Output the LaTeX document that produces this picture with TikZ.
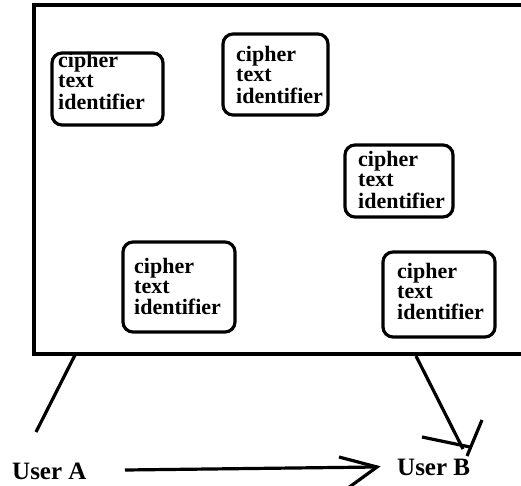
\documentclass[tikz,border=0pt]{standalone}
\usepackage{fontspec}
\setmainfont{Liberation Serif}
\begin{document}
\begin{tikzpicture}[x=1pt,y=-1pt,
  ink/.style={line width=3.2pt,black},
  cbox/.style={draw,line width=3.2pt,rounded corners=10pt,inner sep=0pt},
  ctext/.style={anchor=base west,inner sep=0pt,font=\fontsize{22}{20}\selectfont\bfseries},
  utext/.style={anchor=base west,inner sep=0pt,font=\fontsize{25}{26}\selectfont\bfseries}]
\useasboundingbox (0,0) rectangle (521,486);
\clip (0,0) rectangle (521,486);
\newcommand{\cte}{\renewcommand\arraystretch{1}\begin{tabular}[t]{@{}l@{}}cipher\\text\\identifier\end{tabular}}
% big frame (right side runs off the picture)
\draw[ink] (540,5) -- (34,5) -- (34,354) -- (540,354);
% boxes
\draw[cbox] (52,53) rectangle (163,125);
\node[ctext] (t1) at (58,68) {\cte};
\draw[cbox] (223,34) rectangle (328,115);
\node[ctext] (t2) at (236,62) {\cte};
\draw[cbox] (345,145) rectangle (453,217);
\node[ctext] (t3) at (358,167) {\cte};
\draw[cbox] (123,242) rectangle (235,332);
\node[ctext] (t4) at (134,273) {\cte};
\draw[cbox] (383,252) rectangle (495,337);
\node[ctext] (t5) at (397,278) {\cte};
% users
\node[utext] (ua) at (12,479) {User A};
\node[utext] (ub) at (397,475) {User B};
% lines
\coordinate (fa) at (76,353);
\coordinate (la) at (36,432);
\draw[ink] (fa) -- (la);
\coordinate (fb) at (416,356);
\coordinate (bt) at (463,449);
\draw[ink] (fb) -- (bt);
\draw[ink] (422,437) -- (470,447);
\draw[ink] (482,420) -- (467,456);
\coordinate (as) at (125,470);
\coordinate (ae) at (377,467);
\draw[ink] (as) -- (ae);
\draw[ink] (339,457) -- (ae) -- (348,488);
\end{tikzpicture}
\end{document}
